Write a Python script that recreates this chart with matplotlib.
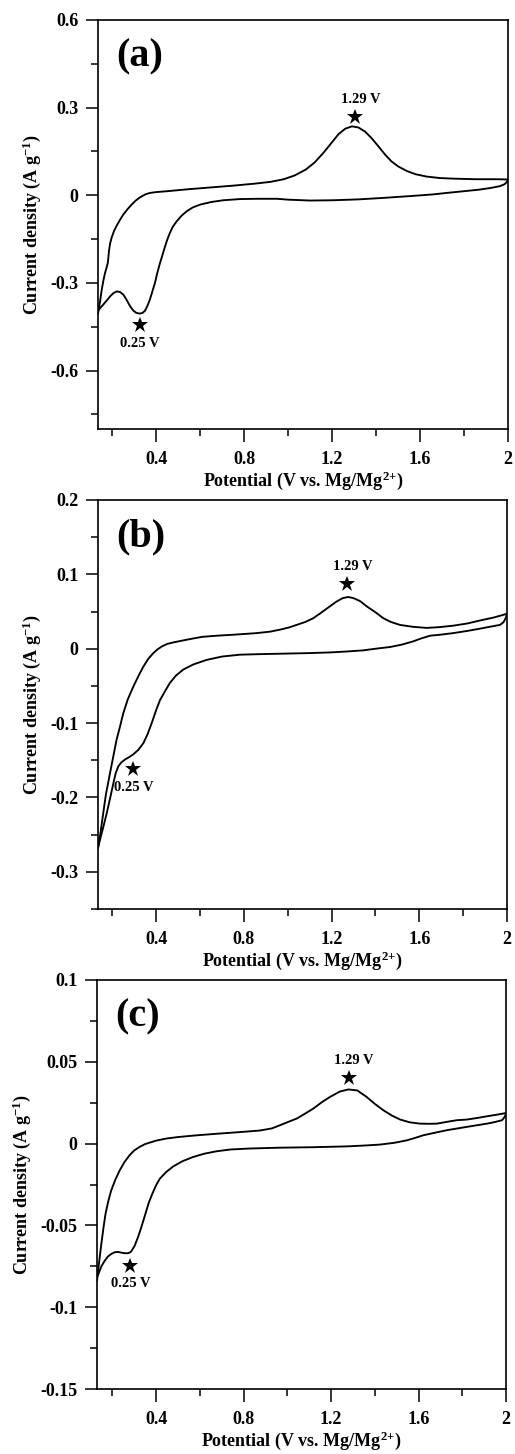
import matplotlib
matplotlib.use("Agg")
import matplotlib.pyplot as plt
from matplotlib.ticker import MultipleLocator, FixedLocator

plt.rcParams['font.family'] = ['Liberation Serif', 'DejaVu Serif']
plt.rcParams['font.weight'] = 'bold'
plt.rcParams['mathtext.fontset'] = 'custom'
plt.rcParams['mathtext.rm'] = 'Liberation Serif:bold'
plt.rcParams['mathtext.bf'] = 'Liberation Serif:bold'
plt.rcParams['mathtext.default'] = 'bf'

# ---------------- data ----------------
# Panel (a): anodic branch (left->right) and cathodic branch (right->left)
xa_up = [0.135, 0.145, 0.152, 0.160, 0.167, 0.175, 0.180, 0.185, 0.190, 0.197, 0.208, 0.220,
         0.235, 0.250, 0.270, 0.288, 0.305, 0.326, 0.350, 0.371, 0.40, 0.45, 0.55, 0.65,
         0.75, 0.85, 0.92, 0.98, 1.03, 1.08, 1.12, 1.16, 1.20, 1.23, 1.26, 1.29,
         1.32, 1.35, 1.38, 1.41, 1.44, 1.47, 1.50, 1.54, 1.58, 1.63, 1.69, 1.75,
         1.85, 1.95, 2.0]
ya_up = [-0.405, -0.36, -0.323, -0.29, -0.266, -0.245, -0.23, -0.19, -0.165, -0.145, -0.122, -0.104,
         -0.084, -0.066, -0.047, -0.032, -0.019, -0.007, 0.003, 0.008, 0.011, 0.014, 0.021, 0.027,
         0.033, 0.040, 0.046, 0.055, 0.068, 0.088, 0.112, 0.145, 0.182, 0.210, 0.228, 0.236,
         0.232, 0.218, 0.195, 0.168, 0.140, 0.116, 0.099, 0.083, 0.072, 0.064, 0.059, 0.057,
         0.055, 0.055, 0.054]
xa_dn = [2.0, 1.995, 1.985, 1.962, 1.92, 1.871, 1.80, 1.72, 1.659, 1.55, 1.432, 1.32,
         1.205, 1.10, 1.0, 0.95, 0.856, 0.78, 0.705, 0.65, 0.599, 0.565, 0.538, 0.515,
         0.493, 0.475, 0.462, 0.45, 0.44, 0.428, 0.417, 0.405, 0.394, 0.382, 0.371, 0.36,
         0.349, 0.337, 0.323, 0.308, 0.295, 0.283, 0.273, 0.262, 0.25, 0.235, 0.22, 0.205,
         0.19, 0.175, 0.159, 0.145, 0.135]
ya_dn = [0.054, 0.046, 0.038, 0.031, 0.025, 0.0195, 0.014, 0.008, 0.003, -0.003, -0.009, -0.014,
         -0.017, -0.018, -0.015, -0.012, -0.012, -0.013, -0.017, -0.023, -0.032, -0.042, -0.055, -0.070,
         -0.089, -0.108, -0.129, -0.152, -0.175, -0.205, -0.232, -0.265, -0.300, -0.33, -0.357, -0.378,
         -0.395, -0.403, -0.405, -0.402, -0.394, -0.382, -0.369, -0.354, -0.340, -0.331, -0.329, -0.335,
         -0.346, -0.36, -0.374, -0.386, -0.395]

# Panel (b)
xb_up = [0.134, 0.145, 0.158, 0.17, 0.189, 0.205, 0.219, 0.235, 0.249, 0.27, 0.295, 0.318,
         0.341, 0.365, 0.386, 0.405, 0.425, 0.45, 0.478, 0.52, 0.554, 0.61, 0.676, 0.76,
         0.858, 0.92, 0.97, 1.01, 1.04, 1.08, 1.116, 1.15, 1.192, 1.22, 1.25, 1.276,
         1.30, 1.33, 1.36, 1.40, 1.436, 1.47, 1.512, 1.57, 1.634, 1.69, 1.755, 1.82,
         1.877, 1.94, 2.0]
yb_up = [-0.268, -0.248, -0.221, -0.196, -0.167, -0.143, -0.122, -0.104, -0.087, -0.068, -0.051, -0.037,
         -0.024, -0.013, -0.006, -0.001, 0.003, 0.0065, 0.0085, 0.011, 0.013, 0.016, 0.0175, 0.019,
         0.021, 0.023, 0.026, 0.029, 0.032, 0.036, 0.041, 0.048, 0.057, 0.063, 0.068, 0.0696,
         0.068, 0.064, 0.057, 0.049, 0.041, 0.036, 0.032, 0.0295, 0.028, 0.029, 0.031, 0.034,
         0.038, 0.042, 0.047]
xb_dn = [2.0, 1.995, 1.985, 1.968, 1.93, 1.877, 1.82, 1.755, 1.70, 1.649, 1.61, 1.572,
         1.52, 1.466, 1.40, 1.344, 1.27, 1.192, 1.08, 0.964, 0.87, 0.782, 0.70, 0.63,
         0.57, 0.523, 0.49, 0.462, 0.44, 0.417, 0.40, 0.379, 0.36, 0.341, 0.318, 0.295,
         0.275, 0.257, 0.24, 0.227, 0.215, 0.204, 0.19, 0.174, 0.158, 0.143, 0.134]
yb_dn = [0.047, 0.042, 0.036, 0.032, 0.030, 0.027, 0.024, 0.021, 0.019, 0.0175, 0.014, 0.0099,
         0.0055, 0.0023, 0.0, -0.0022, -0.0037, -0.005, -0.006, -0.0067, -0.0073, -0.008, -0.0105, -0.015,
         -0.021, -0.028, -0.036, -0.046, -0.057, -0.069, -0.082, -0.100, -0.115, -0.127, -0.136, -0.142,
         -0.146, -0.149, -0.153, -0.158, -0.167, -0.181, -0.200, -0.221, -0.240, -0.257, -0.268]

# Panel (c)
xc_up = [0.130, 0.140, 0.150, 0.160, 0.169, 0.182, 0.195, 0.214, 0.234, 0.256, 0.279, 0.30,
         0.325, 0.35, 0.371, 0.40, 0.447, 0.50, 0.58, 0.676, 0.78, 0.875, 0.93, 0.966,
         1.005, 1.043, 1.08, 1.119, 1.16, 1.195, 1.24, 1.279, 1.32, 1.363, 1.40, 1.439,
         1.48, 1.516, 1.56, 1.607, 1.65, 1.684, 1.73, 1.775, 1.821, 1.87, 1.913, 1.96, 2.0]
yc_up = [-0.0837, -0.072, -0.0612, -0.051, -0.0429, -0.035, -0.0286, -0.022, -0.0163, -0.0112, -0.0071, -0.0042,
         -0.0020, -0.0003, 0.0006, 0.0018, 0.0031, 0.0040, 0.0050, 0.0060, 0.0070, 0.0080, 0.0093, 0.0112,
         0.0133, 0.0153, 0.0182, 0.0214, 0.0255, 0.0285, 0.0318, 0.0331, 0.0325, 0.0285, 0.0243, 0.0204,
         0.0170, 0.0147, 0.0130, 0.0122, 0.0121, 0.0122, 0.0133, 0.0143, 0.0147, 0.0157, 0.0167, 0.0177, 0.0187]
xc_dn = [2.0, 1.995, 1.982, 1.95, 1.913, 1.82, 1.73, 1.67, 1.622, 1.585, 1.547, 1.49,
         1.424, 1.35, 1.272, 1.12, 0.966, 0.829, 0.74, 0.676, 0.62, 0.569, 0.52, 0.478,
         0.445, 0.417, 0.40, 0.385, 0.367, 0.35, 0.333, 0.318, 0.302, 0.285, 0.272, 0.257,
         0.242, 0.226, 0.211, 0.195, 0.18, 0.165, 0.15, 0.14, 0.130]
yc_dn = [0.0187, 0.0165, 0.0143, 0.0132, 0.0122, 0.0102, 0.0082, 0.0065, 0.0051, 0.0035, 0.0020, 0.0005,
         -0.0006, -0.0012, -0.0017, -0.0022, -0.0025, -0.0030, -0.0036, -0.0047, -0.0062, -0.0082, -0.0108, -0.0140,
         -0.0175, -0.0215, -0.0255, -0.0300, -0.0360, -0.0435, -0.0510, -0.0570, -0.0625, -0.0662, -0.0670, -0.0670,
         -0.0667, -0.0662, -0.0664, -0.0675, -0.0690, -0.0717, -0.0750, -0.0785, -0.0817]

# Annotation stars (x, y) and label positions
star_a = [(1.303, 0.268), (0.326, -0.445)]
lab_a = [(1.329, 0.328, '1.29 V'), (0.326, -0.506, '0.25 V')]
star_b = [(1.269, 0.087), (0.294, -0.162)]
lab_b = [(1.295, 0.110, '1.29 V'), (0.296, -0.187, '0.25 V')]
star_c = [(1.282, 0.0398), (0.282, -0.0749)]
lab_c = [(1.305, 0.0510, '1.29 V'), (0.284, -0.0857, '0.25 V')]

panel_labels = ['(a)', '(b)', '(c)']
xticks = [0.4, 0.8, 1.2, 1.6, 2.0]
xticklabels = ['0.4', '0.8', '1.2', '1.6', '2']
yticks_a = [-0.6, -0.3, 0.0, 0.3, 0.6]
ytl_a = ['-0.6', '-0.3', '0', '0.3', '0.6']
yticks_b = [-0.3, -0.2, -0.1, 0.0, 0.1, 0.2]
ytl_b = ['-0.3', '-0.2', '-0.1', '0', '0.1', '0.2']
yticks_c = [-0.15, -0.1, -0.05, 0.0, 0.05, 0.1]
ytl_c = ['-0.15', '-0.1', '-0.05', '0', '0.05', '0.1']

W, H = 515, 1454
fig = plt.figure(figsize=(W / 100, H / 100), dpi=100)


def make_axes(l, r, t, b):
    return fig.add_axes([l / W, 1 - b / H, (r - l) / W, (b - t) / H])


panels = [
    dict(box=(98, 508, 20, 429), xl=(0.135, 2.0), yl=(-0.8, 0.6), yt=yticks_a, ytl=ytl_a, ym=0.15,
         up=(xa_up, ya_up), dn=(xa_dn, ya_dn), stars=star_a, labs=lab_a),
    dict(box=(98, 507, 500, 909), xl=(0.134, 2.0), yl=(-0.35, 0.2), yt=yticks_b, ytl=ytl_b, ym=0.05,
         up=(xb_up, yb_up), dn=(xb_dn, yb_dn), stars=star_b, labs=lab_b),
    dict(box=(97, 506, 980, 1389), xl=(0.13, 2.0), yl=(-0.15, 0.1), yt=yticks_c, ytl=ytl_c, ym=0.025,
         up=(xc_up, yc_up), dn=(xc_dn, yc_dn), stars=star_c, labs=lab_c),
]

for i, p in enumerate(panels):
    ax = make_axes(*p['box'])
    ax.plot(p['up'][0], p['up'][1], color='black', lw=1.35, solid_joinstyle='round')
    ax.plot(p['dn'][0], p['dn'][1], color='black', lw=1.35, solid_joinstyle='round')
    for (sx, sy) in p['stars']:
        ax.plot(sx, sy, marker='*', color='black', ms=12, mew=0, linestyle='none')
    for (lx, ly, s) in p['labs']:
        ax.text(lx, ly, s, ha='center', va='center', fontsize=10.5, fontweight='bold')
    ax.set_xlim(*p['xl'])
    ax.set_ylim(*p['yl'])
    ax.set_xticks(xticks)
    ax.set_xticklabels(xticklabels)
    ax.xaxis.set_minor_locator(FixedLocator([0.2, 0.6, 1.0, 1.4, 1.8]))
    ax.set_yticks(p['yt'])
    ax.set_yticklabels(p['ytl'])
    ax.yaxis.set_minor_locator(MultipleLocator(p['ym']))
    ax.tick_params(which='major', direction='out', length=9, width=1.1, labelsize=13, pad=7)
    ax.tick_params(which='minor', direction='out', length=5, width=1.1)
    ax.tick_params(axis='y', which='major', pad=5)
    for lab in ax.get_xticklabels() + ax.get_yticklabels():
        lab.set_fontweight('bold')
    for sp in ax.spines.values():
        sp.set_linewidth(1.2)
    ax.set_xlabel(r'Potential (V vs. Mg/Mg$^{\mathbf{2{+}}}$)', fontsize=13, fontweight='bold', labelpad=1)
    ax.set_ylabel(r'Current density (A g$^{\mathbf{-1}}$)', fontsize=13, fontweight='bold', labelpad=5)
    ax.text(0.045, 0.955, panel_labels[i], transform=ax.transAxes, ha='left', va='top',
            fontsize=29, fontweight='bold')

fig.savefig('out.png', dpi=100)
